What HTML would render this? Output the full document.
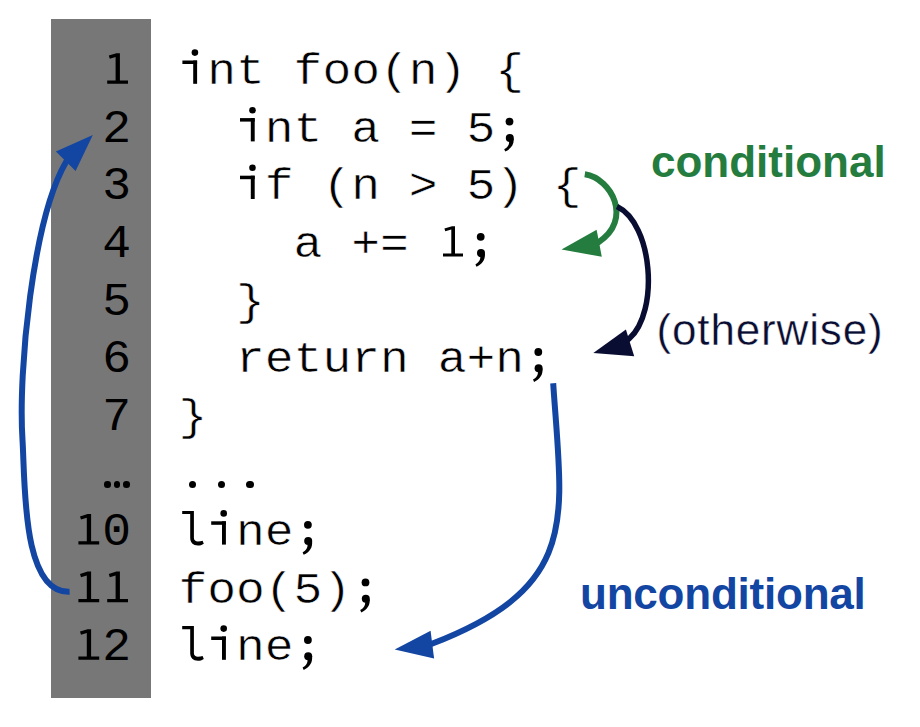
<!DOCTYPE html>
<html><head><meta charset="utf-8"><style>
html,body{margin:0;padding:0;background:#fff;width:920px;height:727px;overflow:hidden;position:relative}
.gutter{position:absolute;left:51px;top:19px;width:100px;height:679px;background:#777}
.num,.code{position:absolute;transform:scaleY(0.96);transform-origin:0 41.57px;font-family:"Liberation Mono",monospace;font-size:48px;line-height:57.6px;height:57.6px;white-space:pre;color:#000}
.num{left:0;width:131px;text-align:right}
.code{left:178.4px;-webkit-text-stroke:0.55px #fff;transform:scaleY(0.93)}
.lbl{position:absolute;font-family:"Liberation Sans",sans-serif;white-space:pre}
#cond{left:651px;top:131.8px;line-height:60px;font-size:44px;font-weight:bold;color:#247d3e}
#oth{-webkit-text-stroke:0.4px #fff;left:656.5px;top:299.5px;line-height:60px;font-size:44px;letter-spacing:0.85px;color:#090d31}
#uncond{left:580px;top:564px;line-height:60px;font-size:44px;letter-spacing:-0.22px;font-weight:bold;color:#1346a3}
.dot{position:absolute;border-radius:50%;background:#000}
svg{position:absolute;left:0;top:0}
</style></head><body>
<div class="gutter"></div>
<div class="num" style="top:43.23px"> </div>
<div class="code" style="top:43.23px"> nt foo(n) {</div>
<div class="num" style="top:100.83px">2</div>
<div class="code" style="top:100.83px">   nt a = 5</div>
<div class="num" style="top:158.43px">3</div>
<div class="code" style="top:158.43px">   f (n &gt; 5) {</div>
<div class="num" style="top:216.03px">4</div>
<div class="code" style="top:216.03px">    a +=</div>
<div class="num" style="top:273.63px">5</div>
<div class="code" style="top:273.63px">  }</div>
<div class="num" style="top:331.23px">6</div>
<div class="code" style="top:331.23px">  return a+n</div>
<div class="num" style="top:388.83px">7</div>
<div class="code" style="top:388.83px">}</div>
<div class="num" style="top:504.03px"> 0</div>
<div class="code" style="top:504.03px">  ne</div>
<div class="num" style="top:561.63px">  </div>
<div class="code" style="top:561.63px">foo(5)</div>
<div class="num" style="top:619.23px"> 2</div>
<div class="code" style="top:619.23px">  ne</div>
<div class="dot" style="left:104.0px;top:481.3px;width:6.6px;height:6.6px"></div>
<div class="dot" style="left:113.6px;top:481.3px;width:6.6px;height:6.6px"></div>
<div class="dot" style="left:123.2px;top:481.3px;width:6.6px;height:6.6px"></div>
<div class="dot" style="left:188.8px;top:481.0px;width:7.2px;height:7.2px"></div>
<div class="dot" style="left:217.6px;top:481.0px;width:7.2px;height:7.2px"></div>
<div class="dot" style="left:246.4px;top:481.0px;width:7.2px;height:7.2px"></div>
<div class="lbl" id="cond">conditional</div>
<div class="lbl" id="oth">(otherwise)</div>
<div class="lbl" id="uncond">unconditional</div>
<svg width="920" height="727" viewBox="0 0 920 727">
<g fill="#000">
<g transform="translate(509.6,142.8)"><circle cx="-0.1" cy="-21.2" r="3.9"/><circle cx="0.2" cy="-4.9" r="4"/><path d="M4.1,-4.6 C4.6,1.5 1.8,5.8 -4.3,8.8 L-5.4,6.4 C-1.6,4.5 -0.3,1.5 -0.5,-1.2 Z"/></g>
<g transform="translate(480.8,258.0)"><circle cx="-0.1" cy="-21.2" r="3.9"/><circle cx="0.2" cy="-4.9" r="4"/><path d="M4.1,-4.6 C4.6,1.5 1.8,5.8 -4.3,8.8 L-5.4,6.4 C-1.6,4.5 -0.3,1.5 -0.5,-1.2 Z"/></g>
<g transform="translate(538.4,373.2)"><circle cx="-0.1" cy="-21.2" r="3.9"/><circle cx="0.2" cy="-4.9" r="4"/><path d="M4.1,-4.6 C4.6,1.5 1.8,5.8 -4.3,8.8 L-5.4,6.4 C-1.6,4.5 -0.3,1.5 -0.5,-1.2 Z"/></g>
<g transform="translate(308.0,546.0)"><circle cx="-0.1" cy="-21.2" r="3.9"/><circle cx="0.2" cy="-4.9" r="4"/><path d="M4.1,-4.6 C4.6,1.5 1.8,5.8 -4.3,8.8 L-5.4,6.4 C-1.6,4.5 -0.3,1.5 -0.5,-1.2 Z"/></g>
<g transform="translate(365.6,603.6)"><circle cx="-0.1" cy="-21.2" r="3.9"/><circle cx="0.2" cy="-4.9" r="4"/><path d="M4.1,-4.6 C4.6,1.5 1.8,5.8 -4.3,8.8 L-5.4,6.4 C-1.6,4.5 -0.3,1.5 -0.5,-1.2 Z"/></g>
<g transform="translate(308.0,661.2)"><circle cx="-0.1" cy="-21.2" r="3.9"/><circle cx="0.2" cy="-4.9" r="4"/><path d="M4.1,-4.6 C4.6,1.5 1.8,5.8 -4.3,8.8 L-5.4,6.4 C-1.6,4.5 -0.3,1.5 -0.5,-1.2 Z"/></g>
<g transform="translate(178.4,83.8)"><circle cx="16.5" cy="-31.2" r="3.3"/><rect x="4.0" y="-23.3" width="14.7" height="3.5"/><rect x="14.8" y="-23.3" width="3.9" height="23.3"/></g>
<g transform="translate(236.0,141.4)"><circle cx="16.5" cy="-31.2" r="3.3"/><rect x="4.0" y="-23.3" width="14.7" height="3.5"/><rect x="14.8" y="-23.3" width="3.9" height="23.3"/></g>
<g transform="translate(236.0,199.0)"><circle cx="16.5" cy="-31.2" r="3.3"/><rect x="4.0" y="-23.3" width="14.7" height="3.5"/><rect x="14.8" y="-23.3" width="3.9" height="23.3"/></g>
<g transform="translate(207.2,544.6)"><circle cx="16.5" cy="-31.2" r="3.3"/><rect x="4.0" y="-23.3" width="14.7" height="3.5"/><rect x="14.8" y="-23.3" width="3.9" height="23.3"/></g>
<g transform="translate(207.2,659.8)"><circle cx="16.5" cy="-31.2" r="3.3"/><rect x="4.0" y="-23.3" width="14.7" height="3.5"/><rect x="14.8" y="-23.3" width="3.9" height="23.3"/></g>
<g transform="translate(102.2,83.8)"><path d="M5,0 H25.8 V-3.3 H17.7 V-30.6 H14.2 L6.6,-28.2 L7.6,-25.0 L13.4,-26.8 V-3.3 H5 Z"/></g>
<g transform="translate(73.4,544.6)"><path d="M5,0 H25.8 V-3.3 H17.7 V-30.6 H14.2 L6.6,-28.2 L7.6,-25.0 L13.4,-26.8 V-3.3 H5 Z"/></g>
<g transform="translate(73.4,602.2)"><path d="M5,0 H25.8 V-3.3 H17.7 V-30.6 H14.2 L6.6,-28.2 L7.6,-25.0 L13.4,-26.8 V-3.3 H5 Z"/></g>
<g transform="translate(102.2,602.2)"><path d="M5,0 H25.8 V-3.3 H17.7 V-30.6 H14.2 L6.6,-28.2 L7.6,-25.0 L13.4,-26.8 V-3.3 H5 Z"/></g>
<g transform="translate(73.4,659.8)"><path d="M5,0 H25.8 V-3.3 H17.7 V-30.6 H14.2 L6.6,-28.2 L7.6,-25.0 L13.4,-26.8 V-3.3 H5 Z"/></g>
<g transform="translate(437.6,256.6)"><path d="M5.4,0 H25.4 V-3.0 H17.4 V-30.4 H14.4 L6.8,-28.1 L7.7,-25.3 L13.7,-27.0 V-3.0 H5.4 Z"/></g>
<g transform="translate(178.4,544.6)"><path d="M3.8,-33.7 H15.5 V-6.8 C15.5,-4.3 17.2,-3.1 19.5,-3.1 C21.2,-3.1 22.8,-3.5 24.2,-3.9 L25.4,-0.9 C23.6,0.4 21.6,0.9 19.5,0.9 C14.8,0.9 11.8,-2 11.8,-6.8 V-30.6 H3.8 Z"/></g>
<g transform="translate(178.4,659.8)"><path d="M3.8,-33.7 H15.5 V-6.8 C15.5,-4.3 17.2,-3.1 19.5,-3.1 C21.2,-3.1 22.8,-3.5 24.2,-3.9 L25.4,-0.9 C23.6,0.4 21.6,0.9 19.5,0.9 C14.8,0.9 11.8,-2 11.8,-6.8 V-30.6 H3.8 Z"/></g>
</g>
<g fill="none" stroke-width="6" stroke-linecap="butt">
<path stroke="#1346a3" d="M69.6,591.8 C21.5,593.4 25.2,481.7 22.5,440.0 C18.0,370.8 32.8,219.0 66.0,162.0 L69.0,156.8"/>
<path stroke="#1346a3" d="M553.2,383.2 C562.0,518.0 582.3,585.5 432.5,643.5 L426.9,645.7"/>
<path stroke="#247d3e" d="M584.8,174.3 C611.6,178.3 633.3,219.8 598.2,242.4 L593.2,245.6"/>
<path stroke="#090d31" stroke-width="5.5" d="M617.0,206.6 C652.9,223.9 659.2,311.2 629.6,338.3 L625.2,342.4"/>
</g>
<polygon fill="#1346a3" points="92.8,134.9 55.9,151.5 75.6,171"/>
<polygon fill="#1346a3" points="394.7,649.4 430.6,630.7 434.1,658.5"/>
<polygon fill="#247d3e" points="561.5,249.4 596.6,229.7 601.8,256.8"/>
<polygon fill="#090d31" points="593.3,353 625.9,329.5 634.2,356.3"/>
</svg>
</body></html>
